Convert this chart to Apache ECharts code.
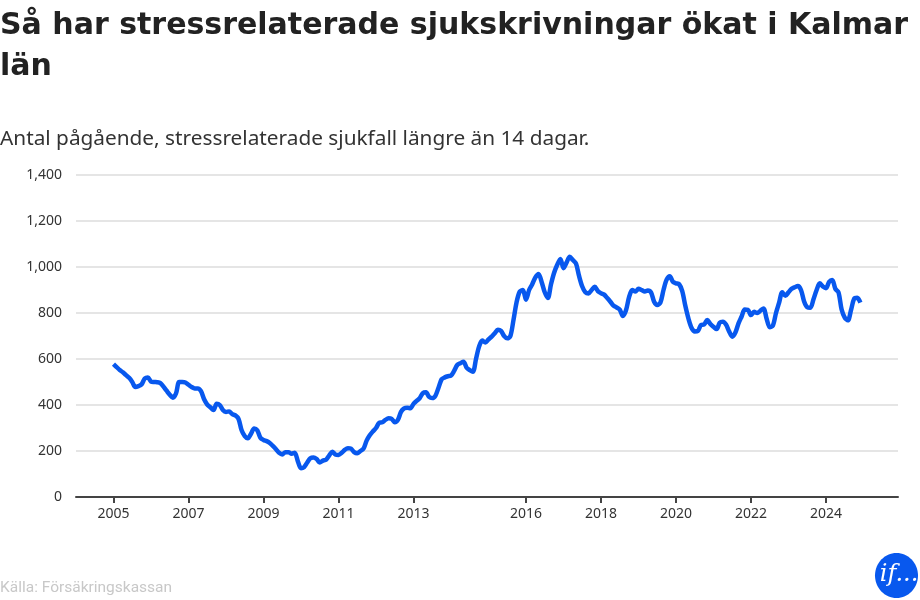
<!DOCTYPE html>
<html>
<head>
<meta charset="utf-8">
<script src="https://cdn.jsdelivr.net/npm/echarts@6/dist/echarts.min.js"></script>
<style>
  html, body { margin: 0; padding: 0; background: #fff; }
  #chart { width: 920px; height: 600px; }
</style>
</head>
<body>
<div id="chart"></div>
<script>
// år med månadsvärden, jan..dec
var years = [2005, 2006, 2007, 2008, 2009, 2010, 2011, 2012, 2013, 2014,
             2015, 2016, 2017, 2018, 2019, 2020, 2021, 2022, 2023, 2024];

var v2005 = [578, 565, 552, 542, 530, 518, 500, 478, 482, 490, 515, 520];
var v2006 = [502, 500, 499, 495, 480, 462, 445, 432, 450, 500, 500, 498];
var v2007 = [488, 478, 472, 472, 460, 425, 402, 390, 378, 405, 400, 378];
var v2008 = [370, 372, 360, 355, 340, 290, 265, 255, 275, 298, 290, 258];
var v2009 = [248, 243, 235, 222, 208, 192, 185, 195, 195, 188, 192, 155];
var v2010 = [125, 130, 150, 168, 172, 165, 150, 158, 162, 180, 197, 185];
var v2011 = [183, 192, 205, 212, 210, 195, 190, 200, 210, 245, 268, 285];
var v2012 = [300, 322, 325, 335, 342, 340, 325, 335, 370, 385, 388, 386];
var v2013 = [405, 418, 430, 452, 455, 435, 430, 440, 475, 512, 520, 525];
var v2014 = [528, 548, 574, 582, 588, 562, 552, 545, 600, 655, 680, 672];
var v2015 = [685, 697, 712, 727, 722, 700, 690, 700, 770, 848, 893, 900];
var v2016 = [858, 900, 925, 955, 970, 935, 890, 865, 925, 975, 1010, 1035];
var v2017 = [995, 1020, 1045, 1030, 1015, 960, 915, 890, 885, 900, 914, 895];
var v2018 = [886, 880, 865, 849, 832, 824, 815, 787, 812, 870, 900, 893];
var v2019 = [905, 900, 893, 898, 890, 849, 835, 845, 900, 945, 960, 936];
var v2020 = [929, 925, 895, 830, 775, 735, 720, 722, 748, 750, 770, 752];
var v2021 = [740, 730, 758, 762, 750, 720, 697, 715, 755, 785, 815, 814];
var v2022 = [791, 805, 800, 810, 820, 775, 738, 745, 800, 845, 890, 875];
var v2023 = [890, 905, 912, 917, 900, 850, 825, 823, 860, 900, 929, 915];
var v2024 = [908, 935, 943, 905, 890, 815, 780, 768, 812, 862, 866, 845];

var tickYears = [2005, 2007, 2009, 2011, 2013, 2016, 2018, 2020, 2022, 2024];
var yTicks = [0, 200, 400, 600, 800, 1000, 1200, 1400];

var byYear = [v2005, v2006, v2007, v2008, v2009, v2010, v2011, v2012, v2013, v2014,
              v2015, v2016, v2017, v2018, v2019, v2020, v2021, v2022, v2023, v2024];

var points = [];
years.forEach(function (y, i) {
  byYear[i].forEach(function (v, m) {
    points.push([y + m / 12, v]);
  });
});

var chart = echarts.init(document.getElementById('chart'));

var option = {
  backgroundColor: '#fff',
  animation: false,
  title: {
    text: 'Så har stressrelaterade sjukskrivningar ökat i Kalmar\nlän',
    left: 0,
    top: 6,
    padding: 0,
    textStyle: {
      fontFamily: 'DejaVu Sans',
      fontSize: 30,
      fontWeight: 'bold',
      color: '#222',
      lineHeight: 41
    },
    subtext: 'Antal pågående, stressrelaterade sjukfall längre än 14 dagar.',
    itemGap: 41,
    subtextStyle: {
      fontFamily: 'Noto Sans',
      fontSize: 20.8,
      color: '#333'
    }
  },
  grid: {
    left: 76,
    right: 22,
    top: 175,
    bottom: 103
  },
  xAxis: {
    type: 'value',
    min: 2004,
    max: 2025.92,
    axisLine: { lineStyle: { color: '#444', width: 2 } },
    axisTick: {
      customValues: tickYears,
      length: 6,
      lineStyle: { color: '#444', width: 2 }
    },
    axisLabel: {
      customValues: tickYears,
      formatter: function (v) { return String(Math.round(v)); },
      fontFamily: 'Noto Sans',
      fontSize: 14,
      color: '#333',
      margin: 10
    },
    splitLine: { show: false }
  },
  yAxis: {
    type: 'value',
    min: yTicks[0],
    max: yTicks[yTicks.length - 1],
    interval: 200,
    axisLine: { show: false },
    axisTick: { show: false },
    axisLabel: {
      formatter: function (v) { return v.toLocaleString('en-US'); },
      fontFamily: 'Noto Sans',
      fontSize: 14,
      color: '#333',
      margin: 14
    },
    splitLine: { lineStyle: { color: '#ddd', width: 1.5 } }
  },
  series: [{
    type: 'line',
    data: points,
    showSymbol: false,
    smooth: 0.3,
    lineStyle: { color: '#0858ee', width: 4.5 },
    z: 3
  }],
  graphic: [
    {
      type: 'text',
      left: 0,
      top: 580,
      style: {
        text: 'Källa: Försäkringskassan',
        fontFamily: 'Roboto',
        fontSize: 15.5,
        fill: '#c8c8c8'
      }
    },
    {
      type: 'group',
      left: 875,
      top: 553,
      children: [
        {
          type: 'ellipse',
          shape: { cx: 21.5, cy: 22.5, rx: 21.5, ry: 22.5 },
          style: { fill: '#0858ee' }
        },
        {
          type: 'text',
          x: 24,
          y: 22,
          style: {
            text: 'if...',
            fontFamily: 'DejaVu Serif',
            fontStyle: 'italic',
            fontSize: 24,
            fill: '#fff',
            align: 'center',
            verticalAlign: 'middle'
          }
        }
      ]
    }
  ]
};

chart.setOption(option);
</script>
</body>
</html>
